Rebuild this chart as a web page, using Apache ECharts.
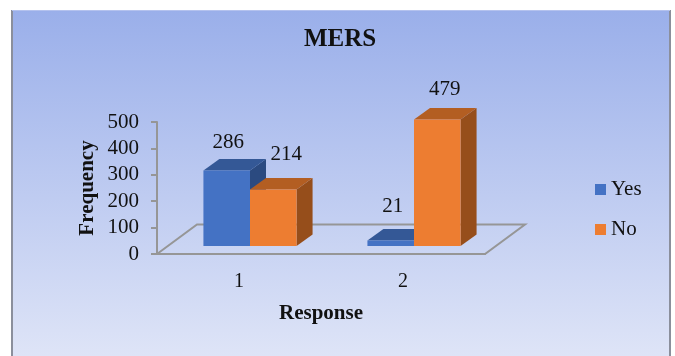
<!DOCTYPE html>
<html>
<head>
<meta charset="utf-8">
<style>html,body{margin:0;padding:0;background:#fff}#chart{width:675px;height:356px}</style>
<script src="https://cdn.jsdelivr.net/npm/echarts@6/dist/echarts.min.js"></script>
</head>
<body>
<div id="chart"></div>
<script>
const categories = ['1', '2'];
const yesValues = [286, 21];
const noValues = [214, 479];

const SERIF = '"Liberation Serif", "Times New Roman", serif';
const AXIS_GREY = '#969696';

// Oblique projection of the 3D look, in pixels
const FLOOR_DX = 40, FLOOR_DY = -29.5;   // depth of the floor
const BAR_DX = 16, BAR_DY = -11.5;       // depth of a bar
const BASE_DX = 11, BASE_DY = -8;        // bars stand inside the floor
const BAR_BAND = 0.284;                  // bar width as a share of the category band

// Faces per series, and label nudges relative to the bar's top centre
const FACES = {
  Yes: { front: '#4472c4', top: '#345896', side: '#2b4a80', sign: -1, nudge: [[1.5, -28.5], [2, -33.5]] },
  No:  { front: '#ed7d31', top: '#b35e22', side: '#964e1b', sign: 0,  nudge: [[13, -35.5], [7.5, -30]] }
};

function poly(points, fill) {
  return { type: 'polygon', shape: { points }, style: { fill, stroke: null } };
}

function barItem(name) {
  const f = FACES[name];
  return function (params, api) {
    const i = api.value(0), v = api.value(1);
    const band = api.size([1, 0])[0];
    const w = band * BAR_BAND;
    const top = api.coord([i, v]);
    const base = api.coord([i, 0]);
    const x0 = base[0] + BASE_DX + f.sign * w;
    const x1 = x0 + w;
    const y0 = base[1] + BASE_DY;
    const y1 = top[1] + BASE_DY;
    const nudge = f.nudge[params.dataIndex];
    return {
      type: 'group',
      children: [
        poly([[x1, y1], [x1 + BAR_DX, y1 + BAR_DY], [x1 + BAR_DX, y0 + BAR_DY], [x1, y0]], f.side),
        poly([[x0, y1], [x0 + BAR_DX, y1 + BAR_DY], [x1 + BAR_DX, y1 + BAR_DY], [x1, y1]], f.top),
        poly([[x0, y0], [x1, y0], [x1, y1], [x0, y1]], f.front),
        {
          type: 'text',
          z2: 50,
          style: {
            text: String(v),
            x: (x0 + x1) / 2 + nudge[0],
            y: y1 + nudge[1],
            align: 'center',
            verticalAlign: 'middle',
            fill: '#111',
            font: '21px ' + SERIF
          }
        }
      ]
    };
  };
}

function floorItem(params) {
  const c = params.coordSys;
  const b = c.y + c.height;
  return {
    type: 'polygon',
    shape: { points: [[c.x, b], [c.x + FLOOR_DX, b + FLOOR_DY], [c.x + c.width + FLOOR_DX, b + FLOOR_DY], [c.x + c.width, b]] },
    style: { fill: 'rgba(255,255,255,0.03)', stroke: AXIS_GREY, lineWidth: 2 }
  };
}

const chart = echarts.init(document.getElementById('chart'), null, { renderer: 'canvas' });
chart.setOption({
  animation: false,
  backgroundColor: '#fff',
  graphic: [
    {
      type: 'rect', z: -10, silent: true,
      shape: { x: 11, y: 10, width: 659, height: 346 },
      style: {
        fill: { type: 'linear', x: 0, y: 0, x2: 0, y2: 1,
          colorStops: [{ offset: 0, color: '#9aafea' }, { offset: 1, color: '#dee4f7' }] }
      }
    },
    { type: 'line', z: -9, silent: true, shape: { x1: 12, y1: 10, x2: 12, y2: 356 }, style: { stroke: '#8b8f9c', lineWidth: 2 } },
    { type: 'line', z: -9, silent: true, shape: { x1: 670, y1: 10, x2: 670, y2: 356 }, style: { stroke: '#8b8f9c', lineWidth: 2 } },
    { type: 'line', z: -9, silent: true, shape: { x1: 12, y1: 10.5, x2: 670, y2: 10.5 }, style: { stroke: '#b4c2ee', lineWidth: 1 } }
  ],
  title: {
    text: 'MERS', left: 335, top: 22, textAlign: 'center',
    textStyle: { fontFamily: SERIF, fontSize: 25, fontWeight: 'bold', color: '#111' }
  },
  legend: {
    data: ['Yes', 'No'], orient: 'vertical', left: 590, top: 174, icon: 'rect',
    itemWidth: 11, itemHeight: 11, itemGap: 19,
    textStyle: { fontFamily: SERIF, fontSize: 21, color: '#111', padding: [0, 0, 0, 0] }
  },
  grid: { left: 157, right: 190, top: 122, bottom: 102, containLabel: false },
  xAxis: {
    type: 'category', data: categories,
    name: 'Response', nameLocation: 'middle', nameGap: 49,
    nameTextStyle: { fontFamily: SERIF, fontSize: 21, fontWeight: 'bold', color: '#111' },
    axisLine: { onZero: false, lineStyle: { color: AXIS_GREY, width: 2 } },
    axisTick: { show: false },
    axisLabel: { margin: 18, fontFamily: SERIF, fontSize: 20, color: '#111' },
    splitLine: { show: false }
  },
  yAxis: {
    type: 'value', min: 0, max: 500, interval: 100,
    name: 'Frequency', nameLocation: 'middle', nameGap: 59,
    nameTextStyle: { fontFamily: SERIF, fontSize: 21, fontWeight: 'bold', color: '#111' },
    axisLine: { show: true, lineStyle: { color: AXIS_GREY, width: 2 } },
    axisTick: { show: true, length: 6, lineStyle: { color: AXIS_GREY, width: 2 } },
    axisLabel: { margin: 18, fontFamily: SERIF, fontSize: 21, color: '#111' },
    splitLine: { show: false }
  },
  series: [
    { type: 'custom', name: 'floor', silent: true, z: 1, data: [[0, 0]], renderItem: floorItem, encode: { x: 0, y: 1 } },
    { type: 'custom', name: 'Yes', z: 2, itemStyle: { color: FACES.Yes.front },
      data: yesValues.map((v, i) => [i, v]), renderItem: barItem('Yes'), encode: { x: 0, y: 1 } },
    { type: 'custom', name: 'No', z: 3, itemStyle: { color: FACES.No.front },
      data: noValues.map((v, i) => [i, v]), renderItem: barItem('No'), encode: { x: 0, y: 1 } }
  ]
});
</script>
</body>
</html>
